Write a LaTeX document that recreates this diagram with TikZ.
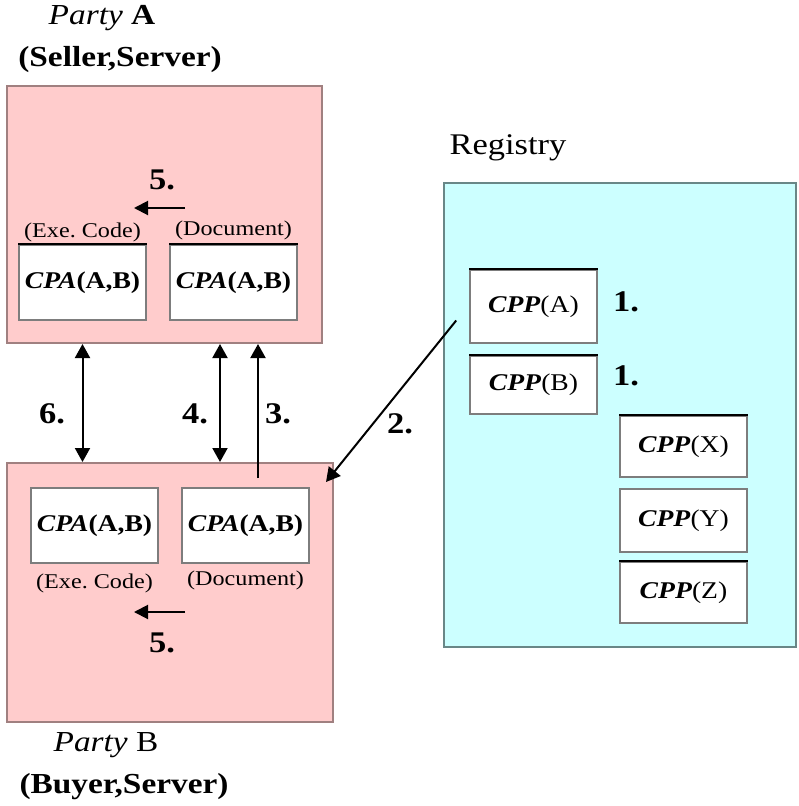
\documentclass[tikz,border=0pt]{standalone}
\usepackage{fontspec}
\setmainfont{Liberation Serif}[FakeStretch=1.15]
\usetikzlibrary{arrows.meta}
\definecolor{pinkfill}{RGB}{255,204,204}
\definecolor{pinkline}{RGB}{160,128,128}
\definecolor{cyanfill}{RGB}{204,255,255}
\definecolor{cyanline}{RGB}{105,135,135}
\definecolor{boxline}{RGB}{125,125,125}
\begin{document}
\begin{tikzpicture}[x=1pt,y=-1pt,
  party/.style={draw=pinkline, fill=pinkfill, line width=2pt, inner sep=0pt},
  registry/.style={draw=cyanline, fill=cyanfill, line width=2pt, inner sep=0pt},
  doc/.style={draw=boxline, fill=white, line width=1.6pt, inner sep=0pt,
    minimum width=127pt, font=\fontsize{24}{28}\selectfont},
  blacktop/.style={line width=2pt, black},
  small/.style={font=\fontsize{21}{24}\selectfont, inner sep=0pt},
  num/.style={font=\fontsize{30}{34}\selectfont\bfseries, inner sep=0pt},
  title/.style={font=\fontsize{29}{33}\selectfont, inner sep=0pt},
  conn/.style={line width=2pt, -{Triangle[length=14pt,width=15pt]}},
  conn2/.style={line width=2pt, {Triangle[length=14pt,width=15pt]}-{Triangle[length=14pt,width=15pt]}}
]
\useasboundingbox (0,0) rectangle (798,806);

% titles
\node[title] (tA) at (102,18) {\textit{Party} \textbf{A}};
\node[title] (tA2) at (120,60) {\textbf{(Seller,Server)}};
\node[title] (tB) at (106,745) {\textit{Party} B};
\node[title] (tB2) at (124,787) {\textbf{(Buyer,Server)}};
\node[font=\fontsize{30}{34}\selectfont, inner sep=0pt] (tR) at (508,148) {Registry};

% big boxes
\node[party, minimum width=315pt, minimum height=257pt] (pA) at (164.5,214.5) {};
\node[party, minimum width=326pt, minimum height=259pt] (pB) at (170,592.5) {};
\node[registry, minimum width=352pt, minimum height=464pt] (reg) at (620,415) {};

% Party A contents
\node[doc, minimum height=75pt] (aL) at (82.5,282.5) {\textbf{\textit{CPA}(A,B)}};
\node[doc, minimum height=75pt] (aR) at (233.5,282.5) {\textbf{\textit{CPA}(A,B)}};
\draw[blacktop] (aL.north west) -- (aL.north east);
\draw[blacktop] (aR.north west) -- (aR.north east);
\node[small] (aLl) at (82.5,232) {(Exe.\ Code)};
\node[small] (aRl) at (233.5,230) {(Document)};
\coordinate (a5s) at (185,208);
\coordinate (a5e) at (134,208);
\draw[line width=2pt, -{Triangle[length=14pt,width=14pt]}] (a5s) -- (a5e);
\node[num] (n5a) at (162,180) {5.};

% Party B contents
\node[doc, minimum height=75pt] (bL) at (94.5,525.5) {\textbf{\textit{CPA}(A,B)}};
\node[doc, minimum height=75pt] (bR) at (245.5,525.5) {\textbf{\textit{CPA}(A,B)}};
\node[small] (bLl) at (94.5,583) {(Exe.\ Code)};
\node[small] (bRl) at (245.5,580) {(Document)};
\coordinate (b5s) at (185,612);
\coordinate (b5e) at (134,612);
\draw[line width=2pt, -{Triangle[length=14pt,width=14pt]}] (b5s) -- (b5e);
\node[num] (n5b) at (162,643) {5.};

% Registry contents
\node[doc, minimum height=73pt] (ca) at (533.5,306.5) {\textbf{\textit{CPP}}(A)};
\node[doc, minimum height=58pt] (cb) at (533.5,385) {\textbf{\textit{CPP}}(B)};
\node[doc, minimum height=61pt] (cx) at (683.5,446.5) {\textbf{\textit{CPP}}(X)};
\node[doc, minimum height=63pt] (cy) at (683.5,520.5) {\textbf{\textit{CPP}}(Y)};
\node[doc, minimum height=61pt] (cz) at (683.5,592.5) {\textbf{\textit{CPP}}(Z)};
\draw[blacktop] (ca.north west) -- (ca.north east);
\draw[blacktop] (cb.north west) -- (cb.north east);
\draw[blacktop] (cx.north west) -- (cx.north east);
\draw[blacktop] (cz.north west) -- (cz.north east);
\node[num] (n1a) at (626,302) {1.};
\node[num] (n1b) at (626,376) {1.};

% connectors between parties
\draw[conn2] (pA.south -| aL) -- (pB.north -| aL);
\coordinate (x4) at (220,0);
\draw[conn2] (pA.south -| x4) -- (pB.north -| x4);
\coordinate (s3) at (258,478);
\draw[conn] (s3) -- (pA.south -| s3);
\node[num] (n6) at (52,414) {6.};
\node[num] (n4) at (195,414) {4.};
\node[num] (n3) at (278,414) {3.};

% registry to party B
\coordinate (s2) at ([shift={(-13,14)}]ca.west);
\coordinate (e2) at ([shift={(-8,20)}]pB.north east);
\draw[conn] (s2) -- (e2);
\node[num] (n2) at (400,424) {2.};
\end{tikzpicture}
\end{document}
